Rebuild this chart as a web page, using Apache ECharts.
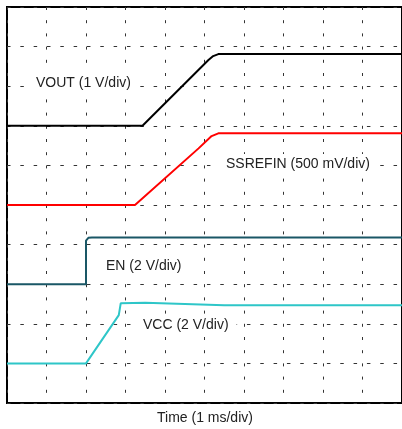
<!DOCTYPE html>
<html>
<head>
<meta charset="utf-8">
<script src="https://cdn.jsdelivr.net/npm/echarts@6/dist/echarts.min.js"></script>
<style>
html,body{margin:0;padding:0;background:#fff;}
#c{width:402px;height:429px;}
</style>
</head>
<body>
<div id="c"></div>
<script>
// Time axis in divisions (1 ms/div), voltages in screen divisions from bottom
const voutT = [0, 3.43, 5.1, 5.22, 5.35, 10];
const voutV = [7.0, 7.0, 8.66, 8.76, 8.81, 8.81];
const ssT = [0, 3.24, 4.85, 5.18, 5.35, 10];
const ssV = [5.0, 5.0, 6.43, 6.74, 6.81, 6.81];
const enT = [0, 2.0, 2.0, 2.06, 2.15, 10];
const enV = [3.0, 3.0, 4.1, 4.17, 4.18, 4.18];
const vccT = [0, 2.0, 2.83, 2.88, 3.5, 4.5, 5.5, 10];
const vccV = [1.0, 1.0, 2.22, 2.52, 2.53, 2.50, 2.47, 2.47];
const traceNames = ['VOUT (1 V/div)', 'SSREFIN (500 mV/div)', 'EN (2 V/div)', 'VCC (2 V/div)'];
const xAxisName = 'Time (1 ms/div)';

function pairs(t, v) { return t.map((x, i) => [x, v[i]]); }

const chart = echarts.init(document.getElementById('c'), null, {renderer: 'canvas'});
const FONT = '"Liberation Sans", Arial, Helvetica, sans-serif';
const lineSeries = (name, t, v, color) => ({
  name, type: 'line', data: pairs(t, v), showSymbol: false, symbol: 'none',
  lineStyle: {color, width: 2}, itemStyle: {color}, animation: false, z: 5
});
const label = (text, left, top, bg) => ({
  type: 'text', left, top, z: 100,
  style: {text, font: '14px ' + FONT, fill: '#222', backgroundColor: bg ? '#fff' : 'transparent', padding: [3, 8]}
});
chart.setOption({
  animation: false,
  grid: {left: 7, top: 7, width: 400, height: 396, show: true, borderColor: '#000', borderWidth: 2, backgroundColor: 'transparent'},
  xAxis: {
    type: 'value', min: 0, max: 10, interval: 1,
    axisLine: {show: false}, axisTick: {show: false}, axisLabel: {show: false},
    splitLine: {show: true, lineStyle: {color: '#333', width: 1, type: [3, 10.2]}}
  },
  yAxis: {
    type: 'value', min: 0, max: 10, interval: 1,
    axisLine: {show: false}, axisTick: {show: false}, axisLabel: {show: false},
    splitLine: {show: true, lineStyle: {color: '#333', width: 1, type: [3.5, 9.83]}}
  },
  series: [
    lineSeries(traceNames[0], voutT, voutV, '#000000'),
    lineSeries(traceNames[1], ssT, ssV, '#ff0000'),
    lineSeries(traceNames[2], enT, enV, '#1a5766'),
    lineSeries(traceNames[3], vccT, vccV, '#2ec6c8')
  ],
  graphic: [
    label(traceNames[0], 85 - 49 - 8, 84 - 8 - 3, true),
    label(traceNames[1], 300 - 74 - 8, 165 - 8 - 3, true),
    label(traceNames[2], 106 - 8, 267.5 - 8 - 3, true),
    label(traceNames[3], 143 - 8, 326 - 8 - 3, true),
    label(xAxisName, 157 - 8, 419 - 8 - 3, false)
  ]
});
</script>
</body>
</html>
